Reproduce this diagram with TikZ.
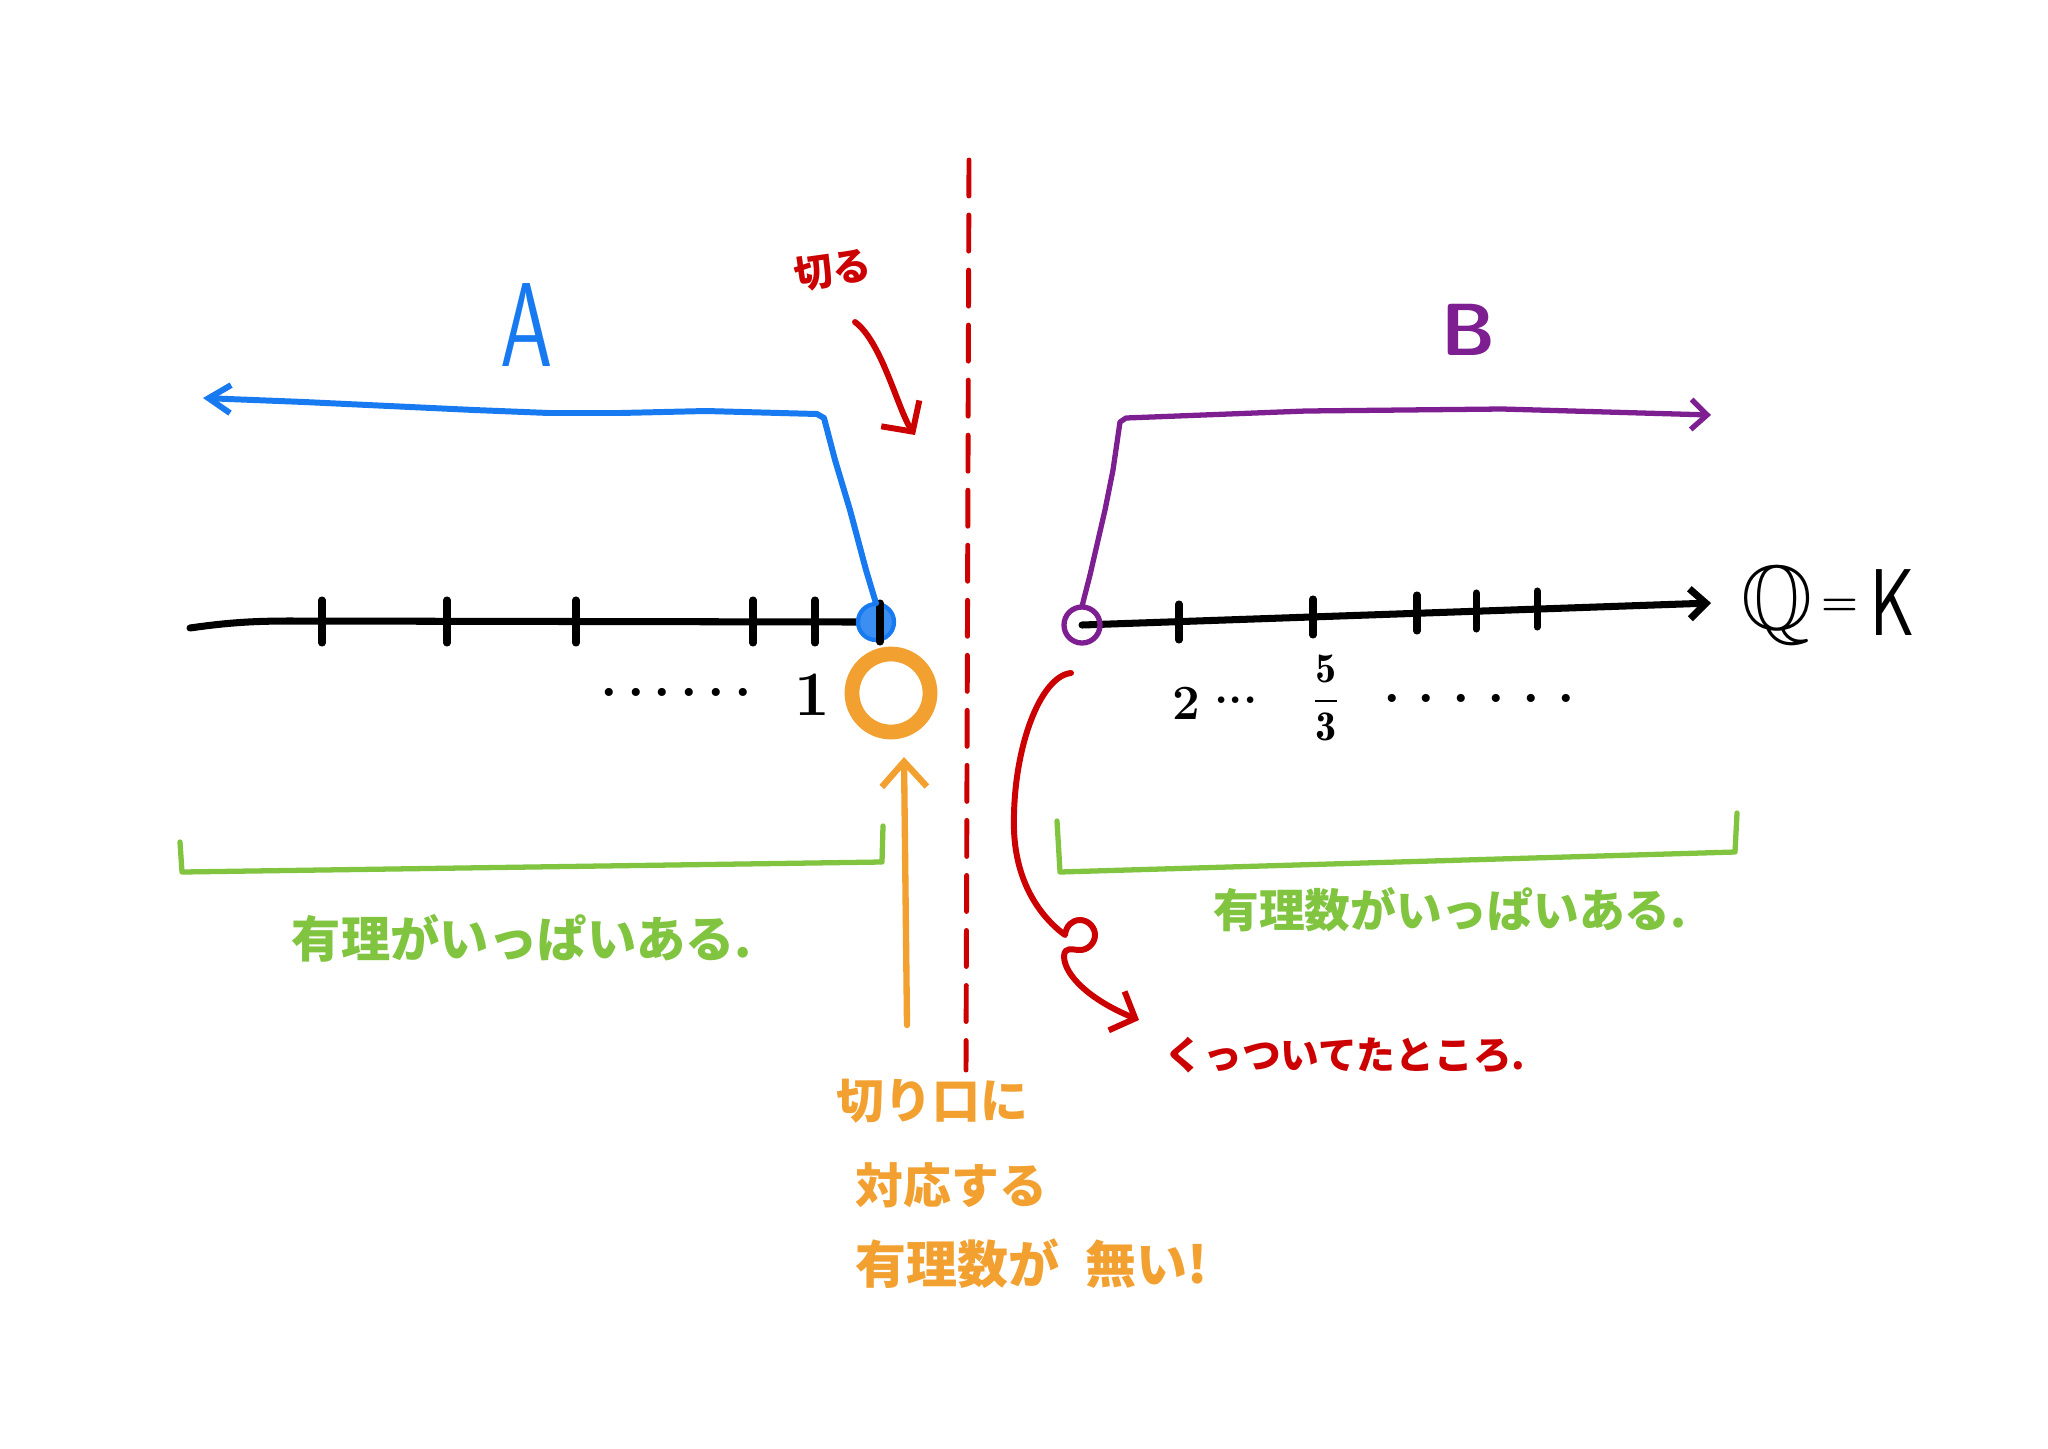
\documentclass[tikz,border=0pt]{standalone}
\usepackage{fontspec}
\usepackage{amssymb}
\newfontfamily\jp{Noto Sans CJK JP}
\usetikzlibrary{arrows.meta}
\definecolor{cblue}{RGB}{24,122,240}
\definecolor{cpurple}{RGB}{125,30,145}
\definecolor{cred}{RGB}{204,0,0}
\definecolor{cgreen}{RGB}{128,196,64}
\definecolor{corange}{RGB}{242,160,48}
\begin{document}
\begin{tikzpicture}[x=0.01cm,y=-0.01cm,line cap=round,line join=round,
  axisline/.style={draw=black,line width=2pt},
  tickmark/.style={draw=black,line width=2pt},
  bline/.style={draw=cblue,line width=1.7pt},
  pline/.style={draw=cpurple,line width=1.5pt},
  rline/.style={draw=cred,line width=1.7pt},
  gline/.style={draw=cgreen,line width=1.5pt},
  oline/.style={draw=corange,line width=1.8pt},
  jptext/.style={inner sep=0pt,font=\jp\bfseries\fontsize{#1}{#1}\selectfont},
  numtext/.style={inner sep=0pt,text=black,font=\bfseries\fontsize{#1}{#1}\selectfont}]
\useasboundingbox[fill=white] (0,0) rectangle (2048,1448);

% cut line
\coordinate (cuttop) at (969,160);
\coordinate (cutbot) at (966,1070);
\draw[draw=cred,line width=1.4pt,dash pattern=on 0.36cm off 0.19cm] (cuttop) -- (cutbot);

% left axis
\coordinate (lax) at (190,628);
\node[circle,minimum size=0.36cm,inner sep=0pt] (bdot) at (876,622) {};
\draw[axisline] (lax) .. controls (225,623) and (250,621) .. (290,621) -- (bdot.west);
\fill[cblue!85] (bdot.center) circle[radius=0.18cm];
\draw[cblue,line width=1.2pt] (bdot.center) circle[radius=0.18cm];
\foreach \x in {322,447,576,753,815} \draw[tickmark] (\x,600) -- (\x,643);
\draw[tickmark] (880,603) -- (880,642);

% right axis
\node[circle,minimum size=0.36cm,inner sep=0pt] (pdot) at (1082,625) {};
\coordinate (raxend) at (1711,603);
\draw[axisline,-{Straight Barb[length=0.16cm,width=0.3cm]}] (pdot.center) -- (raxend);
\draw[pline] (pdot.center) circle[radius=0.18cm];
\foreach \x/\y in {1179/622,1313/617,1417/613,1476/611,1537/609}
  \draw[tickmark] (\x,\y-18) -- (\x,\y+18);

% set A (blue)
\coordinate (bend) at (203,398);
\draw[bline,-{Straight Barb[length=0.22cm,width=0.28cm]}] (bdot.north) -- (866,570) -- (850,510) -- (835,460) -- (824,418) -- (817,414)
  -- (706,411) -- (620,413) -- (549,413) -- (474,410) -- (304,402) -- (bend);
\node[text=cblue,inner sep=0pt,font=\sffamily\fontsize{34}{34}\selectfont] (labA) at (527,325) {\scalebox{0.7}[1]{A}};

% set B (purple)
\coordinate (pend) at (1711,415);
\draw[pline,-{Straight Barb[length=0.16cm,width=0.3cm]}] (pdot.north) -- (1090,575) -- (1105,510) -- (1113,470) -- (1120,422) -- (1126,418)
  -- (1306,411) -- (1502,409) -- (pend);
\node[text=cpurple,inner sep=0pt,font=\sffamily\bfseries\fontsize{21}{21}\selectfont] (labB) at (1469,330) {B};

% Q = K
\node[inner sep=0pt,font=\fontsize{26}{26}\selectfont] (Qs) at (1777,606) {$\mathbb{Q}$};
\node[inner sep=0pt,font=\bfseries\fontsize{12}{12}\selectfont] (eqs) at (1840,607) {=};
\node[inner sep=0pt,font=\sffamily\fontsize{27}{27}\selectfont] (Ks) at (1893,603) {\scalebox{0.72}[1]{K}};

% numbers under the axis
\node[numtext=16] (ldots) at (676,692) {.\hspace{2.6pt}.\hspace{2.6pt}.\hspace{2.6pt}.\hspace{2.6pt}.\hspace{2.6pt}.};
\node[numtext=18] (one) at (812,695) {1};
\node[numtext=14] (two) at (1186,703) {2};
\node[numtext=13] (rdots1) at (1236,700) {...};
\node[inner sep=0pt,font=\fontsize{12}{12}\selectfont] (frac) at (1326,698) {$\displaystyle\frac{\mathbf{5}}{\mathbf{3}}$};
\node[numtext=16] (rdots2) at (1479,698) {.\hspace{4.9pt}.\hspace{4.9pt}.\hspace{4.9pt}.\hspace{4.9pt}.\hspace{4.9pt}.};

% orange gap circle and arrow
\node[circle,draw=corange,line width=4.2pt,minimum size=0.78cm,inner sep=0pt] (ocirc) at (891,693) {};
\coordinate (oa1) at (907,1025);
\coordinate (oa2) at (904,757);
\draw[oline,-{Straight Barb[length=0.25cm,width=0.45cm]}] (oa1) -- (oa2);
\node[jptext=13.6,text=corange,anchor=west] (o1) at (836,1101) {切り口に};
\node[jptext=13.6,text=corange,anchor=west] (o2) at (855,1185) {対応する};
\node[jptext=14.5,text=corange,anchor=west] (o3) at (855,1264) {有理数が\hspace{0.5em}無い!};

% red "cut" label and arrow
\node[jptext=11,text=cred,rotate=8] (kiru) at (833,270) {切る};
\coordinate (k1) at (855,322);
\coordinate (k2) at (915,435);
\draw[rline,-{Straight Barb[length=0.22cm,width=0.46cm]}] (k1) .. controls (882,342) and (898,410) .. (k2);

% red curve to "kuttsuiteta tokoro"
\coordinate (r1) at (1071,673);
\coordinate (r2) at (1139,1020);
\draw[rline,-{Straight Barb[length=0.2cm,width=0.42cm]}] (r1)
  .. controls (1040,676) and (1012,750) .. (1014,830)
  .. controls (1016,885) and (1042,918) .. (1065,935)
  .. controls (1066,926) and (1072,920) .. (1080,920)
  .. controls (1088,920) and (1095,927) .. (1095,935)
  .. controls (1095,943) and (1088,950) .. (1080,950)
  .. controls (1072,950) and (1065,946) .. (1064,956)
  .. controls (1064,975) and (1090,1000) .. (r2);
\node[jptext=11,text=cred] (kuttsu) at (1345,1055) {くっついてたところ.};

% green brackets
\draw[gline] (180,842) -- (182,872) -- (882,862) -- (883,826);
\draw[gline] (1057,821) -- (1060,872) -- (1735,852) -- (1737,813);
\node[jptext=14,text=cgreen] (gl) at (522,938) {有理がいっぱいある.};
\node[jptext=13,text=cgreen] (gr) at (1450,910) {有理数がいっぱいある.};
\end{tikzpicture}
\end{document}
